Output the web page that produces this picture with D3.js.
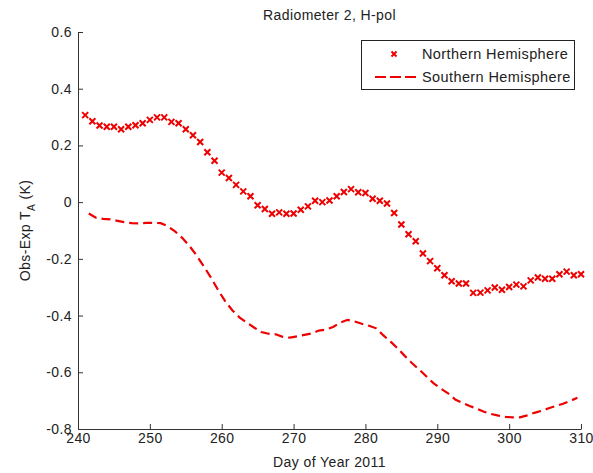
<!DOCTYPE html>
<html>
<head>
<meta charset="utf-8">
<script src="https://d3js.org/d3.v7.min.js"></script>
<style>
  body { margin: 0; background: #fff; }
  text { font-family: "Liberation Sans", Arial, sans-serif; fill: #222; letter-spacing: 0.4px; }
</style>
</head>
<body>
<div id="chart"></div>
<script>
// northern hemisphere, one value per day, days 241..310
const northDays = d3.range(241, 311);
const northValues = [
  0.307, 0.285, 0.270, 0.266, 0.266, 0.257, 0.266, 0.271, 0.278, 0.290,
  0.299, 0.299, 0.283, 0.278, 0.257, 0.236, 0.212, 0.176, 0.146, 0.104,
  0.085, 0.061, 0.038, 0.021, -0.011, -0.024, -0.041, -0.036, -0.041, -0.040,
  -0.027, -0.015, 0.005, 0.000, 0.006, 0.021, 0.036, 0.046, 0.035, 0.032,
  0.012, 0.005, -0.005, -0.038, -0.079, -0.113, -0.138, -0.181, -0.208, -0.233,
  -0.258, -0.279, -0.287, -0.287, -0.320, -0.319, -0.311, -0.301, -0.309, -0.299,
  -0.291, -0.297, -0.276, -0.266, -0.270, -0.270, -0.254, -0.245, -0.258, -0.254
];

// southern hemisphere, days 241.5..309.5
const southDays = d3.range(241.5, 310, 1);
const southValues = [
  -0.040, -0.055, -0.059, -0.061, -0.066, -0.071, -0.074, -0.075, -0.073, -0.073,
  -0.074, -0.085, -0.103, -0.126, -0.154, -0.188, -0.226, -0.266, -0.310, -0.350,
  -0.382, -0.407, -0.425, -0.442, -0.458, -0.464, -0.466, -0.475, -0.478, -0.473,
  -0.468, -0.463, -0.453, -0.450, -0.440, -0.425, -0.415, -0.421, -0.429, -0.436,
  -0.445, -0.470, -0.492, -0.516, -0.543, -0.568, -0.591, -0.615, -0.639, -0.658,
  -0.674, -0.696, -0.708, -0.719, -0.728, -0.739, -0.747, -0.753, -0.757, -0.759,
  -0.759, -0.752, -0.743, -0.736, -0.727, -0.719, -0.711, -0.701, -0.690
];

const xTicks = [240, 250, 260, 270, 280, 290, 300, 310];
const yTicks = [0.6, 0.4, 0.2, 0, -0.2, -0.4, -0.6, -0.8];
const yTickLabels = ["0.6", "0.4", "0.2", "0", "-0.2", "-0.4", "-0.6", "-0.8"];
const seriesNames = ["Northern Hemisphere", "Southern Hemisphere"];
const titleText = "Radiometer 2, H-pol";
const xLabel = "Day of Year 2011";

const width = 593, height = 473;
const margin = {top: 32, right: 12, bottom: 44, left: 78};
const red = "#ee0000";

const svg = d3.select("#chart").append("svg")
    .attr("width", width)
    .attr("height", height);

const x = d3.scaleLinear()
    .domain([240, 310])
    .range([margin.left, width - margin.right]);

const y = d3.scaleLinear()
    .domain([-0.8, 0.6])
    .range([height - margin.bottom, margin.top]);

// axes (MATLAB style, ticks inside)
const xAxis = svg.append("g")
    .attr("transform", `translate(0,${height - margin.bottom})`)
    .call(d3.axisBottom(x).tickValues(xTicks).tickSizeInner(-5).tickSizeOuter(0).tickPadding(6));

const yAxis = svg.append("g")
    .attr("transform", `translate(${margin.left},0)`)
    .call(d3.axisLeft(y).tickValues(yTicks).tickSizeInner(-5).tickSizeOuter(0).tickPadding(6)
        .tickFormat((d, i) => yTickLabels[i]));

[xAxis, yAxis].forEach(function (g) {
    g.selectAll("path, line").attr("stroke", "#333").attr("stroke-width", 1);
    g.selectAll("text").attr("font-size", 14).attr("fill", "#222")
        .attr("font-family", "'Liberation Sans', Arial, sans-serif");
});
xAxis.selectAll("text").attr("dy", "0.6em");

// southern line
svg.append("path")
    .datum(southDays.map((d, i) => [d, southValues[i]]))
    .attr("fill", "none")
    .attr("stroke", red)
    .attr("stroke-width", 2.2)
    .attr("stroke-dasharray", "9,5")
    .attr("d", d3.line().x(d => x(d[0])).y(d => y(d[1])));

// northern markers
const cross = s => `M${-s},${-s}L${s},${s}M${-s},${s}L${s},${-s}`;
svg.append("g")
    .selectAll("path")
    .data(northDays.map((d, i) => [d, northValues[i]]))
    .join("path")
    .attr("transform", d => `translate(${x(d[0])},${y(d[1])})`)
    .attr("d", cross(3))
    .attr("stroke", red)
    .attr("stroke-width", 2);

// title and labels
svg.append("text")
    .attr("x", (x.range()[0] + x.range()[1]) / 2)
    .attr("y", 20)
    .attr("text-anchor", "middle")
    .attr("font-size", 14)
    .text(titleText);

svg.append("text")
    .attr("x", (x.range()[0] + x.range()[1]) / 2)
    .attr("y", 467)
    .attr("text-anchor", "middle")
    .attr("font-size", 14)
    .text(xLabel);

const yl = svg.append("text")
    .attr("transform", `translate(30,${(y.range()[0] + y.range()[1]) / 2}) rotate(-90)`)
    .attr("text-anchor", "middle")
    .attr("font-size", 14);
yl.append("tspan").text("Obs-Exp T");
yl.append("tspan").attr("dy", 5).attr("font-size", 10).text("A");
yl.append("tspan").attr("dy", -5).text(" (K)");

// legend
const lg = svg.append("g");
lg.append("rect")
    .attr("x", 361.5).attr("y", 40.5)
    .attr("width", 213).attr("height", 49)
    .attr("fill", "#fff").attr("stroke", "#222").attr("stroke-width", 1);
lg.append("path")
    .attr("transform", "translate(394,54)")
    .attr("d", cross(2.5))
    .attr("stroke", red).attr("stroke-width", 2);
lg.append("line")
    .attr("x1", 375).attr("x2", 419).attr("y1", 77).attr("y2", 77)
    .attr("stroke", red).attr("stroke-width", 2.2).attr("stroke-dasharray", "11,4");
seriesNames.forEach(function (name, i) {
    lg.append("text")
        .attr("x", 422).attr("y", 59 + i * 22.5)
        .attr("font-size", 14.5)
        .text(name);
});
</script>
</body>
</html>
